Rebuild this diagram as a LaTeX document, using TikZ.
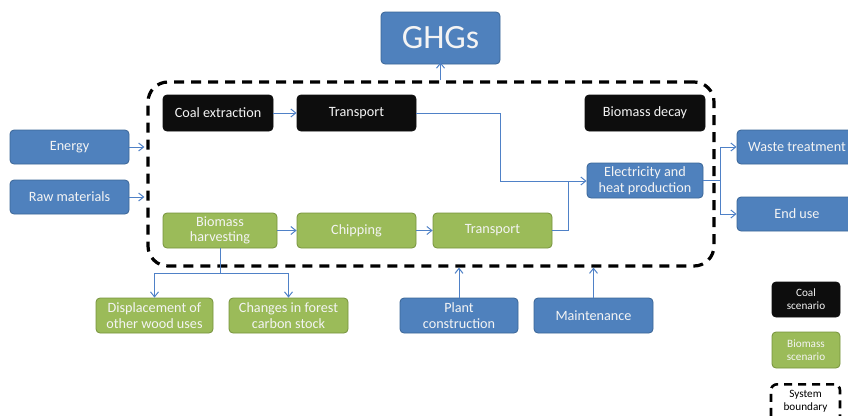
\documentclass[tikz,border=0pt]{standalone}
\usepackage{fontspec}
\setmainfont{Carlito}
\usetikzlibrary{arrows.meta}
\definecolor{bfill}{HTML}{4F81BD}
\definecolor{bline}{HTML}{3A6596}
\definecolor{gfill}{HTML}{9BBB59}
\definecolor{gline}{HTML}{76923C}
\definecolor{kfill}{HTML}{0D0D0D}
\definecolor{flow}{HTML}{4F81C7}
\definecolor{boxtext}{HTML}{F4F4F4}
\tikzset{
  box/.style={rounded corners=4pt, line width=0.8pt, text=boxtext, align=center,
    inner sep=1pt, font=\fontsize{14.2}{15.5}\selectfont},
  bluebox/.style={box, fill=bfill, draw=bline},
  greenbox/.style={box, fill=gfill, draw=gline},
  coalbox/.style={box, fill=kfill, draw=kfill},
  legend/.style={font=\fontsize{11.2}{12.8}\selectfont},
  flowline/.style={draw=flow, line width=1pt},
  flowarrow/.style={flowline, -{Straight Barb[length=5pt,width=8pt]}},
  boundary/.style={draw=black, line width=3.2pt, dash pattern=on 10pt off 7pt,
    rounded corners=20pt}
}
\begin{document}
\begin{tikzpicture}[x=1pt,y=-1pt]
\useasboundingbox (0,0) rectangle (848,415);

% system boundary
\node[boundary, minimum width=566pt, minimum height=184pt] (sys) at (431,174) {};

% emissions
\node[bluebox, minimum width=119pt, minimum height=52pt,
  font=\fontsize{34}{36}\selectfont] (ghg) at (440.5,38) {GHGs};

% coal chain
\node[coalbox, minimum width=110pt, minimum height=36pt] (coal) at (218,113) {Coal extraction};
\node[coalbox, minimum width=119pt, minimum height=36pt] (ctrans) at (356.5,113) {Transport};
\node[coalbox, minimum width=120pt, minimum height=36pt] (decay) at (645,113) {Biomass decay};

% inputs
\node[bluebox, minimum width=119pt, minimum height=34pt] (energy) at (69.5,147) {Energy};
\node[bluebox, minimum width=119pt, minimum height=34pt] (raw) at (69.5,197) {Raw materials};

% biomass chain
\node[greenbox, minimum width=114pt, minimum height=35pt] (harv) at (220,230.5) {Biomass\\harvesting};
\node[greenbox, minimum width=119pt, minimum height=35pt] (chip) at (356.5,230.5) {Chipping};
\node[greenbox, minimum width=119pt, minimum height=35pt] (btrans) at (492.5,230.5) {Transport};

% conversion and outputs
\node[bluebox, minimum width=116pt, minimum height=35pt] (elec) at (645,180.5) {Electricity and\\heat production};
\node[bluebox, minimum width=120pt, minimum height=34pt] (waste) at (797,147) {Waste treatment};
\node[bluebox, minimum width=120pt, minimum height=34pt] (enduse) at (797,214) {End use};

% indirect effects and infrastructure
\node[greenbox, minimum width=117pt, minimum height=35pt] (displ) at (154.5,315.5) {Displacement of\\other wood uses};
\node[greenbox, minimum width=119pt, minimum height=35pt] (changes) at (288.5,315.5) {Changes in forest\\carbon stock};
\node[bluebox, minimum width=118pt, minimum height=35pt] (plant) at (459,315.5) {Plant\\construction};
\node[bluebox, minimum width=119pt, minimum height=35pt] (maint) at (593.5,315.5) {Maintenance};

% legend
\node[coalbox, legend, minimum width=68pt, minimum height=35pt] (lcoal) at (806,299.5) {Coal\\scenario};
\node[greenbox, legend, minimum width=68pt, minimum height=36pt] (lbio) at (806,350) {Biomass\\scenario};
\node[draw=black, line width=2.6pt, dash pattern=on 8pt off 6pt, rounded corners=6pt,
  minimum width=69pt, minimum height=48pt, anchor=north] (lsys) at (805.5,383) {};
\node[legend, text=black, align=center, anchor=north] (lsyst) at (805.5,387) {System\\boundary};

% connectors
\draw[flowarrow] (ghg.south |- sys.north) -- ([yshift=2pt]ghg.south);
\draw[flowarrow] (energy.east) -- ([xshift=-2pt]energy.east -| sys.west);
\draw[flowarrow] (raw.east) -- ([xshift=-2pt]raw.east -| sys.west);
\draw[flowarrow] (coal) -- (ctrans);
\draw[flowarrow] (harv) -- (chip);
\draw[flowarrow] (chip) -- (btrans);

\coordinate (j1) at (500,181);
\coordinate (j2) at (568,181);
\draw[flowline] (ctrans.east) -| (j1);
\draw[flowline] (btrans.east) -| (j2);
\draw[flowarrow] (j1) -- (j1 -| elec.west);

\coordinate (split) at (720,180.5);
\draw[flowline] (elec.east) -- (split);
\draw[flowarrow] (split) |- (waste.west);
\draw[flowarrow] (split) |- (enduse.west);

\coordinate (hb) at (220,273);
\draw[flowline] (harv.south) -- (hb);
\draw[flowarrow] (hb) -| (displ.north);
\draw[flowarrow] (hb) -| (changes.north);

\draw[flowarrow] (plant.north) -- (plant.north |- sys.south);
\draw[flowarrow] (maint.north) -- (maint.north |- sys.south);
\end{tikzpicture}
\end{document}
